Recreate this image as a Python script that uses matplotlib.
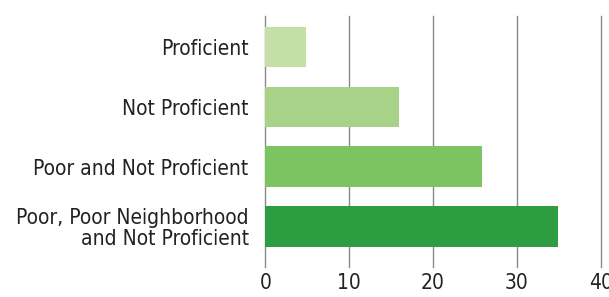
import matplotlib.pyplot as plt

categories = ['Proficient', 'Not Proficient', 'Poor and Not Proficient',
              'Poor, Poor Neighborhood\nand Not Proficient']
values = [4.8, 16.0, 25.9, 34.9]
colors = ['#c5e0a6', '#a7d288', '#7cc362', '#2e9c40']
xticks = [0, 10, 20, 30, 40]

plt.rcParams['font.family'] = ['DejaVu Sans']
plt.rcParams['font.stretch'] = 'condensed'

fig = plt.figure(figsize=(6.09, 2.97), dpi=100)
ax = fig.add_axes([0.4357, 0.101, 0.5507, 0.845])

pos = list(range(len(categories)))
ax.barh(pos, values, height=0.68, color=colors, zorder=3)

ax.set_xlim(0, 40)
ax.set_ylim(3.68, -0.52)
ax.set_xticks(xticks)
ax.set_yticks(pos)
ax.set_yticklabels(categories, fontsize=15, color='#222222', linespacing=1.05,
                   fontstretch='condensed')
ax.set_xticklabels([str(t) for t in xticks], fontsize=15, color='#222222',
                   fontstretch='condensed')
ax.tick_params(length=0)
ax.tick_params(axis='y', pad=12)
ax.tick_params(axis='x', pad=4)
for lbl in ax.get_yticklabels():
    lbl.set_horizontalalignment('right')
    lbl.set_multialignment('right')

ax.grid(axis='x', color='#8a8a8a', linewidth=1.0, zorder=0)
for gl in ax.get_xgridlines():
    gl.set_clip_on(False)
for s in ax.spines.values():
    s.set_visible(False)

fig.savefig('out.png', dpi=100)
